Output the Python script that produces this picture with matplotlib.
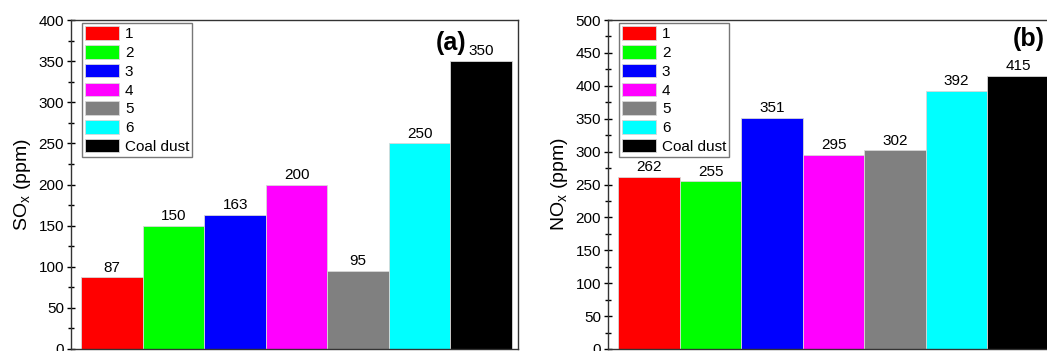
''' Bar charts of SOx and NOx emission per sample '''
import matplotlib.pyplot as plt
from matplotlib.ticker import MultipleLocator

plt.rcParams['font.family'] = ['Liberation Sans', 'DejaVu Sans']

samples = ['1', '2', '3', '4', '5', '6', 'Coal dust']
colors = ['#ff0000', '#00ff00', '#0000ff', '#ff00ff', '#808080', '#00ffff', '#000000']
sox = [87, 150, 163, 200, 95, 250, 350]
nox = [262, 255, 351, 295, 302, 392, 415]

W, H = 1047, 351
fig = plt.figure(figsize=(W / 100, H / 100), dpi=100)

# axes boxes in pixels (left, top, width, height); panel (b) runs off the right edge
boxes = [(71, 20, 447, 329), (608, 20, 447, 329)]
panels = [
    # values, y label, y max, tag, tag position (x, y, ha)
    (sox, r'SO$_\mathregular{x}$ (ppm)', 400, '(a)', (6.76, 364, 'right')),
    (nox, r'NO$_\mathregular{x}$ (ppm)', 500, '(b)', (6.91, 461, 'left')),
]

for (x0, y0, w, h), (vals, ylabel, ymax, tag, tagpos) in zip(boxes, panels):
    ax = fig.add_axes([x0 / W, (H - y0 - h) / H, w / W, h / H])
    xs = list(range(1, len(vals) + 1))
    bars = ax.bar(xs, vals, width=1.0, color=colors, edgecolor='#d8d8d8',
                  linewidth=0.6)
    ax.set_xlim(0.33, 7.6)
    ax.set_ylim(0, ymax)
    ax.set_xticks([])
    ax.yaxis.set_major_locator(MultipleLocator(50))
    ax.yaxis.set_minor_locator(MultipleLocator(25))
    ax.tick_params(axis='y', which='major', direction='inout', length=6,
                   width=1, labelsize=11, pad=2)
    ax.tick_params(axis='y', which='minor', direction='inout', length=4, width=1)
    for sp in ax.spines.values():
        sp.set_linewidth(1.0)
        sp.set_color('#333333')
    ax.set_ylabel(ylabel, fontsize=14, labelpad=4)

    for x, v in zip(xs, vals):
        ax.text(x, v + ymax * 0.008, str(v), ha='center', va='bottom',
                fontsize=11)

    ax.legend(handles=bars.patches, labels=samples, loc='upper left',
              bbox_to_anchor=(0.025, 0.99), fontsize=11, frameon=True,
              fancybox=False, edgecolor='#555555', handlelength=2.2,
              handleheight=1.0, handletextpad=0.4, labelspacing=0.24,
              borderpad=0.2, borderaxespad=0.0)

    tx, ty, tha = tagpos
    ax.text(tx, ty, tag, ha=tha, va='baseline', fontsize=18, fontweight='bold')

fig.savefig('out.png', dpi=100)
